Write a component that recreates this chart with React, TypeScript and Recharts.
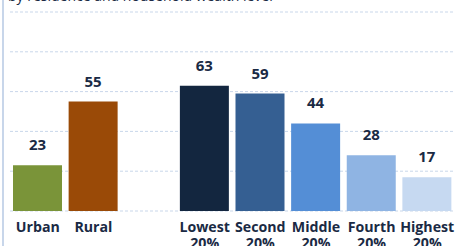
import React from 'react';
import { BarChart, Bar, XAxis, YAxis, CartesianGrid, Cell, LabelList } from 'recharts';

// categories, blank slot separates residence from wealth quintiles
const categories = ['Urban', 'Rural', '', 'Lowest 20%', 'Second 20%', 'Middle 20%', 'Fourth 20%', 'Highest 20%'];
const values = [23, 55, null, 63, 59, 44, 28, 17];
const barColors = ['#7a9439', '#9a4a07', 'transparent', '#13263f', '#355f92', '#548ed6', '#8fb4e3', '#c6d9f1'];
const yTicks = [0, 20, 40, 60, 80, 100];

const textColor = '#1a2a44';
const fontFamily = '"Open Sans", sans-serif';

const chartData = categories.map((name, i) => ({ name, value: values[i] }));

const CategoryTick = (props: any) => {
  const { x, y, payload } = props;
  const words = String(payload.value).split(' ');
  return (
    <text x={x} y={y} textAnchor="middle" fill={textColor} fontFamily={fontFamily} fontWeight={700} fontSize={14.2}>
      {words.map((w, i) => (
        <tspan key={i} x={x} dy={i === 0 ? 19 : 15.5}>{w}</tspan>
      ))}
    </text>
  );
};

export default function App() {
  return (
    <div style={{ position: 'absolute', left: 0, top: 0, width: 459, height: 246, overflow: 'hidden', background: '#fff' }}>
      {/* cropped subtitle at top edge */}
      <div style={{ position: 'absolute', left: 8, top: -11, fontFamily, fontSize: 14, lineHeight: '14px', color: textColor, whiteSpace: 'nowrap' }}>
        by residence and household wealth level
      </div>
      {/* left frame rule */}
      <div style={{ position: 'absolute', left: 2, top: 0, width: 1.5, height: 246, background: '#c8d6ea' }} />
      <div style={{ position: 'absolute', left: 0, top: 0 }}>
        <BarChart width={459} height={246} data={chartData} margin={{ top: 12, right: 4, left: 10, bottom: 0 }} barSize={49}>
          <CartesianGrid stroke="#c9d7ea" strokeDasharray="3 2" vertical={false} />
          <XAxis
            dataKey="name"
            axisLine={false}
            tickLine={false}
            tickSize={0}
            height={35}
            interval={0}
            tick={<CategoryTick />}
          />
          <YAxis hide domain={[0, 100]} ticks={yTicks} width={0} />
          <Bar dataKey="value" isAnimationActive={false}>
            {chartData.map((_, i) => (
              <Cell key={`cell-${i}`} fill={barColors[i]} />
            ))}
            <LabelList
              dataKey="value"
              position="top"
              offset={15}
              fill={textColor}
              fontFamily={fontFamily}
              fontWeight={700}
              fontSize={15}
            />
          </Bar>
        </BarChart>
      </div>
    </div>
  );
}
